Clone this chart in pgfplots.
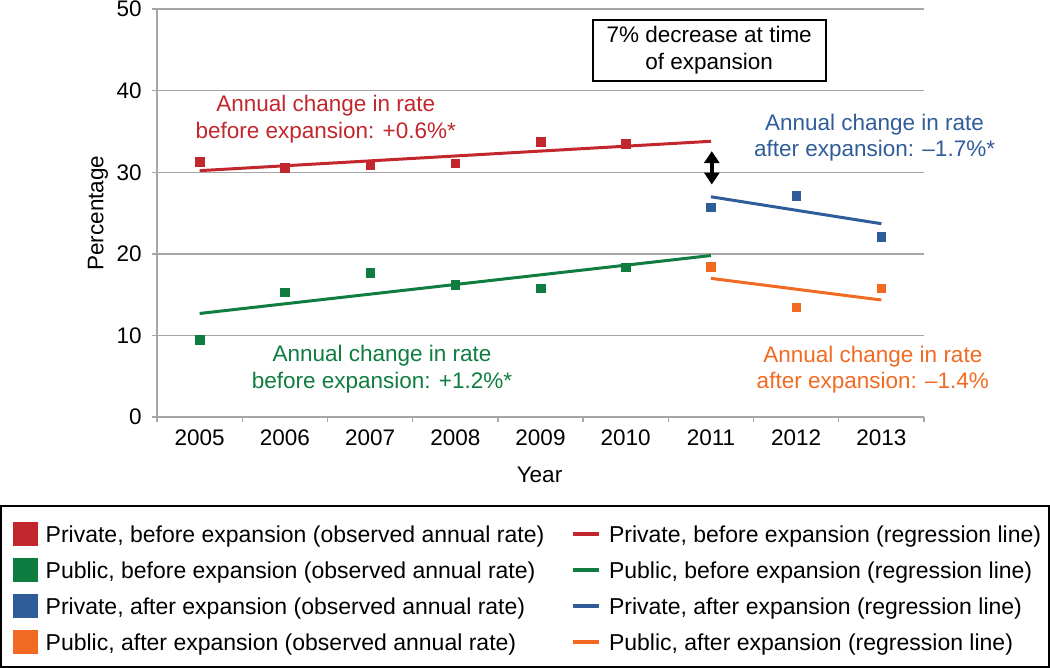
\documentclass[border=0pt]{standalone}
\usepackage{fontspec}
\setmainfont{Liberation Sans}
\usepackage{pgfplots}
\pgfplotsset{compat=1.18}
\usetikzlibrary{arrows.meta}
\definecolor{cred}{HTML}{C1272D}
\definecolor{cgreen}{HTML}{0E7D3F}
\definecolor{cblue}{HTML}{2F5D9A}
\definecolor{corange}{HTML}{F26A21}
\definecolor{cgrid}{HTML}{A6A6A6}
\begin{document}
\fontsize{22.5bp}{26.7bp}\selectfont
\begin{tikzpicture}
\useasboundingbox (0,0) rectangle (1050bp,668bp);
\begin{axis}[
  at={(157bp,250.9bp)}, anchor=south west,
  scale only axis, width=767bp, height=408bp,
  xmin=2004.5, xmax=2013.5, ymin=0, ymax=50,
  clip=false,
  axis x line*=bottom, axis y line*=left,
  axis line style={-, cgrid, line width=1.3bp},
  x axis line style={-}, y axis line style={-},
  xtick={2005,2006,2007,2008,2009,2010,2011,2012,2013},
  xticklabels={2005,2006,2007,2008,2009,2010,2011,2012,2013},
  minor xtick={2004.5,2005.5,2006.5,2007.5,2008.5,2009.5,2010.5,2011.5,2012.5,2013.5},
  ytick={0,10,20,30,40,50},
  tick align=outside,
  major tick length=5bp, minor tick length=5bp,
  tick style={cgrid, line width=1.3bp},
  major x tick style={draw=none},
  ymajorgrids, grid style={cgrid, line width=1.3bp},
  /pgf/number format/assume math mode=true,
  xticklabel style={anchor=center, inner sep=0pt, yshift=-15.9bp},
  yticklabel style={anchor=east, inner sep=0pt, xshift=-10.3bp},
  xlabel={Year},
  xlabel style={at={(axis description cs:0.4987,-0.1412)}, anchor=center},
  ylabel={Percentage},
  ylabel style={at={(axis description cs:-0.077,0.5)}, anchor=center},
  legend columns=2,
  legend cell align=left,
  legend style={draw=none, fill=none, at={(-0.18814,-0.25637)}, anchor=north west,
    font=\fontsize{23bp}{27bp}\selectfont,
    inner sep=0pt, outer sep=0pt, row sep=12bp,
    nodes={inner sep=0pt, outer sep=0pt},
    /tikz/every odd column/.append style={column sep=8bp},
    /tikz/every even column/.append style={column sep=26.7bp}},
]
% Private before - observed
\addplot[only marks, mark=square*, mark size=4.3bp, mark options={draw=cred, fill=cred},
  legend image code/.code={\fill[cred] (0bp,-9.3bp) rectangle (24.6bp,13.9bp);}]
  coordinates {(2005,31.3) (2006,30.6) (2007,30.9) (2008,31.1) (2009,33.75) (2010,33.5)};
\addlegendentry{Private, before expansion (observed annual rate)}
% Private before - regression
\addplot[cred, line width=3bp, no marks,
  legend image code/.code={\draw[cred, line width=4bp] (0bp,2.2bp) -- (26bp,2.2bp);}]
  coordinates {(2005,30.2) (2011,33.8)};
\addlegendentry{Private, before expansion (regression line)}
% Public before - observed
\addplot[only marks, mark=square*, mark size=4.3bp, mark options={draw=cgreen, fill=cgreen},
  legend image code/.code={\fill[cgreen] (0bp,-9.3bp) rectangle (24.6bp,13.9bp);}]
  coordinates {(2005,9.45) (2006,15.3) (2007,17.7) (2008,16.2) (2009,15.8) (2010,18.35)};
\addlegendentry{Public, before expansion (observed annual rate)}
% Public before - regression
\addplot[cgreen, line width=3bp, no marks,
  legend image code/.code={\draw[cgreen, line width=4bp] (0bp,2.2bp) -- (26bp,2.2bp);}]
  coordinates {(2005,12.7) (2011,19.8)};
\addlegendentry{Public, before expansion (regression line)}
% Private after - observed
\addplot[only marks, mark=square*, mark size=4.3bp, mark options={draw=cblue, fill=cblue},
  legend image code/.code={\fill[cblue] (0bp,-9.3bp) rectangle (24.6bp,13.9bp);}]
  coordinates {(2011,25.7) (2012,27.1) (2013,22.1)};
\addlegendentry{Private, after expansion (observed annual rate)}
% Private after - regression
\addplot[cblue, line width=3bp, no marks,
  legend image code/.code={\draw[cblue, line width=4bp] (0bp,2.2bp) -- (26bp,2.2bp);}]
  coordinates {(2011,27.0) (2013,23.7)};
\addlegendentry{Private, after expansion (regression line)}
% Public after - observed
\addplot[only marks, mark=square*, mark size=4.3bp, mark options={draw=corange, fill=corange},
  legend image code/.code={\fill[corange] (0bp,-9.3bp) rectangle (24.6bp,13.9bp);}]
  coordinates {(2011,18.4) (2012,13.45) (2013,15.8)};
\addlegendentry{Public, after expansion (observed annual rate)}
% Public after - regression
\addplot[corange, line width=3bp, no marks,
  legend image code/.code={\draw[corange, line width=4bp] (0bp,2.2bp) -- (26bp,2.2bp);}]
  coordinates {(2011,17.0) (2013,14.35)};
\addlegendentry{Public, after expansion (regression line)}

\node[cred, align=center] at (axis cs:2006.48,36.47) {Annual change in rate\\before expansion: +0.6\%*};
\node[cgreen, align=center] at (axis cs:2007.14,5.87) {Annual change in rate\\before expansion: +1.2\%*};
\node[cblue, align=center] at (axis cs:2012.92,34.23) {Annual change in rate\\after expansion: \textendash1.7\%*};
\node[corange, align=center] at (axis cs:2012.9,5.82) {Annual change in rate\\after expansion: \textendash1.4\%};
\node[draw=black, line width=2bp, fill=white, minimum width=233bp, minimum height=61bp, align=center, inner sep=0pt]
  at (axis cs:2010.98,44.93) {7\% decrease at time\\of expansion};
\draw[line width=4bp, {Triangle[width=15bp,length=12bp]}-{Triangle[width=15bp,length=12bp]}]
  (axis cs:2011.01,32.6) -- (axis cs:2011.01,28.5);
\end{axis}
\draw[line width=2bp] (1bp,1bp) rectangle (1049bp,161.5bp);
\end{tikzpicture}
\end{document}
